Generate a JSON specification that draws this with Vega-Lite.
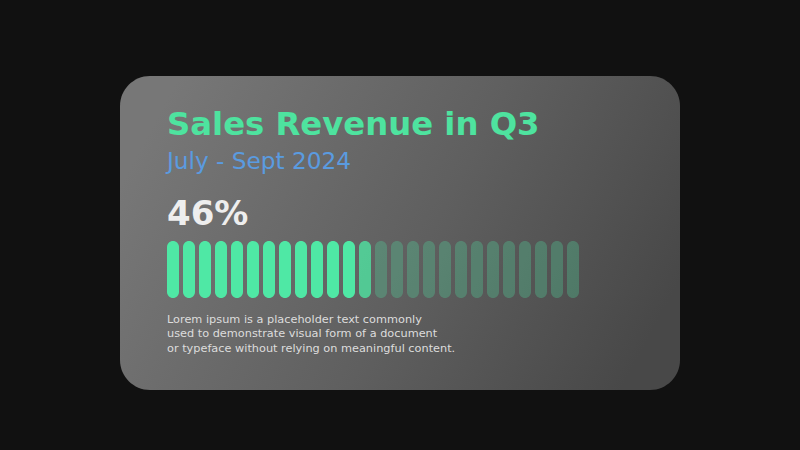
{
  "$schema": "https://vega.github.io/schema/vega-lite/v6.json",
  "width": 560,
  "height": 314,
  "autosize": {"type": "none"},
  "padding": {"left": 120, "top": 76, "right": 120, "bottom": 60},
  "background": "#111111",
  "config": {
    "view": {
      "stroke": null,
      "cornerRadius": 30,
      "fill": {
        "gradient": "linear",
        "x1": 0, "y1": 0.35, "x2": 1, "y2": 0.65,
        "stops": [
          {"offset": 0, "color": "#777777"},
          {"offset": 0.55, "color": "#5f5f5f"},
          {"offset": 1, "color": "#484848"}
        ]
      }
    },
    "font": "DejaVu Sans"
  },
  "layer": [
    {
      "data": {
        "values": [
          {"segment": 1, "state": "on"}, {"segment": 2, "state": "on"},
          {"segment": 3, "state": "on"}, {"segment": 4, "state": "on"},
          {"segment": 5, "state": "on"}, {"segment": 6, "state": "on"},
          {"segment": 7, "state": "on"}, {"segment": 8, "state": "on"},
          {"segment": 9, "state": "on"}, {"segment": 10, "state": "on"},
          {"segment": 11, "state": "on"}, {"segment": 12, "state": "on"},
          {"segment": 13, "state": "edge"}, {"segment": 14, "state": "off"},
          {"segment": 15, "state": "off"}, {"segment": 16, "state": "off"},
          {"segment": 17, "state": "off"}, {"segment": 18, "state": "off"},
          {"segment": 19, "state": "off"}, {"segment": 20, "state": "off"},
          {"segment": 21, "state": "off"}, {"segment": 22, "state": "off"},
          {"segment": 23, "state": "off"}, {"segment": 24, "state": "off"},
          {"segment": 25, "state": "off"}, {"segment": 26, "state": "off"}
        ]
      },
      "mark": {"type": "bar", "cornerRadius": 6},
      "encoding": {
        "x": {
          "field": "segment", "type": "ordinal",
          "scale": {"range": [47, 459], "paddingInner": 0.25, "paddingOuter": 0},
          "axis": null
        },
        "y": {"datum": 165, "type": "quantitative",
          "scale": {"domain": [0, 314], "reverse": true, "nice": false, "zero": false}, "axis": null},
        "y2": {"datum": 222},
        "color": {
          "field": "state", "type": "nominal",
          "scale": {"domain": ["on", "edge", "off"],
            "range": ["#4fe8a5", "rgba(79,225,160,0.82)", "rgba(79,220,160,0.3)"]},
          "legend": null
        }
      }
    },
    {
      "data": {"values": [{"label": "Sales Revenue in Q3"}]},
      "mark": {"type": "text", "align": "left", "baseline": "alphabetic",
        "fontSize": 32.3, "fontWeight": "bold", "color": "#4ee39f"},
      "encoding": {
        "text": {"field": "label"},
        "x": {"datum": 1, "type": "ordinal", "bandPosition": 0},
        "y": {"datum": 59, "type": "quantitative"}
      }
    },
    {
      "data": {"values": [{"label": "July - Sept 2024"}]},
      "mark": {"type": "text", "align": "left", "baseline": "alphabetic",
        "fontSize": 23.2, "color": "#5a9be0"},
      "encoding": {
        "text": {"field": "label"},
        "x": {"datum": 1, "type": "ordinal", "bandPosition": 0},
        "y": {"datum": 93, "type": "quantitative"}
      }
    },
    {
      "data": {"values": [{"label": "46%"}]},
      "mark": {"type": "text", "align": "left", "baseline": "alphabetic",
        "fontSize": 34, "fontWeight": "bold", "color": "#eeeeee"},
      "encoding": {
        "text": {"field": "label"},
        "x": {"datum": 1, "type": "ordinal", "bandPosition": 0},
        "y": {"datum": 149, "type": "quantitative"}
      }
    },
    {
      "data": {"values": [{"label": "Lorem ipsum is a placeholder text commonly\nused to demonstrate visual form of a document\nor typeface without relying on meaningful content."}]},
      "mark": {"type": "text", "align": "left", "baseline": "alphabetic",
        "fontSize": 11.3, "lineBreak": "\n", "lineHeight": 14.3, "color": "#dddddd"},
      "encoding": {
        "text": {"field": "label"},
        "x": {"datum": 1, "type": "ordinal", "bandPosition": 0},
        "y": {"datum": 247, "type": "quantitative"}
      }
    }
  ]
}
